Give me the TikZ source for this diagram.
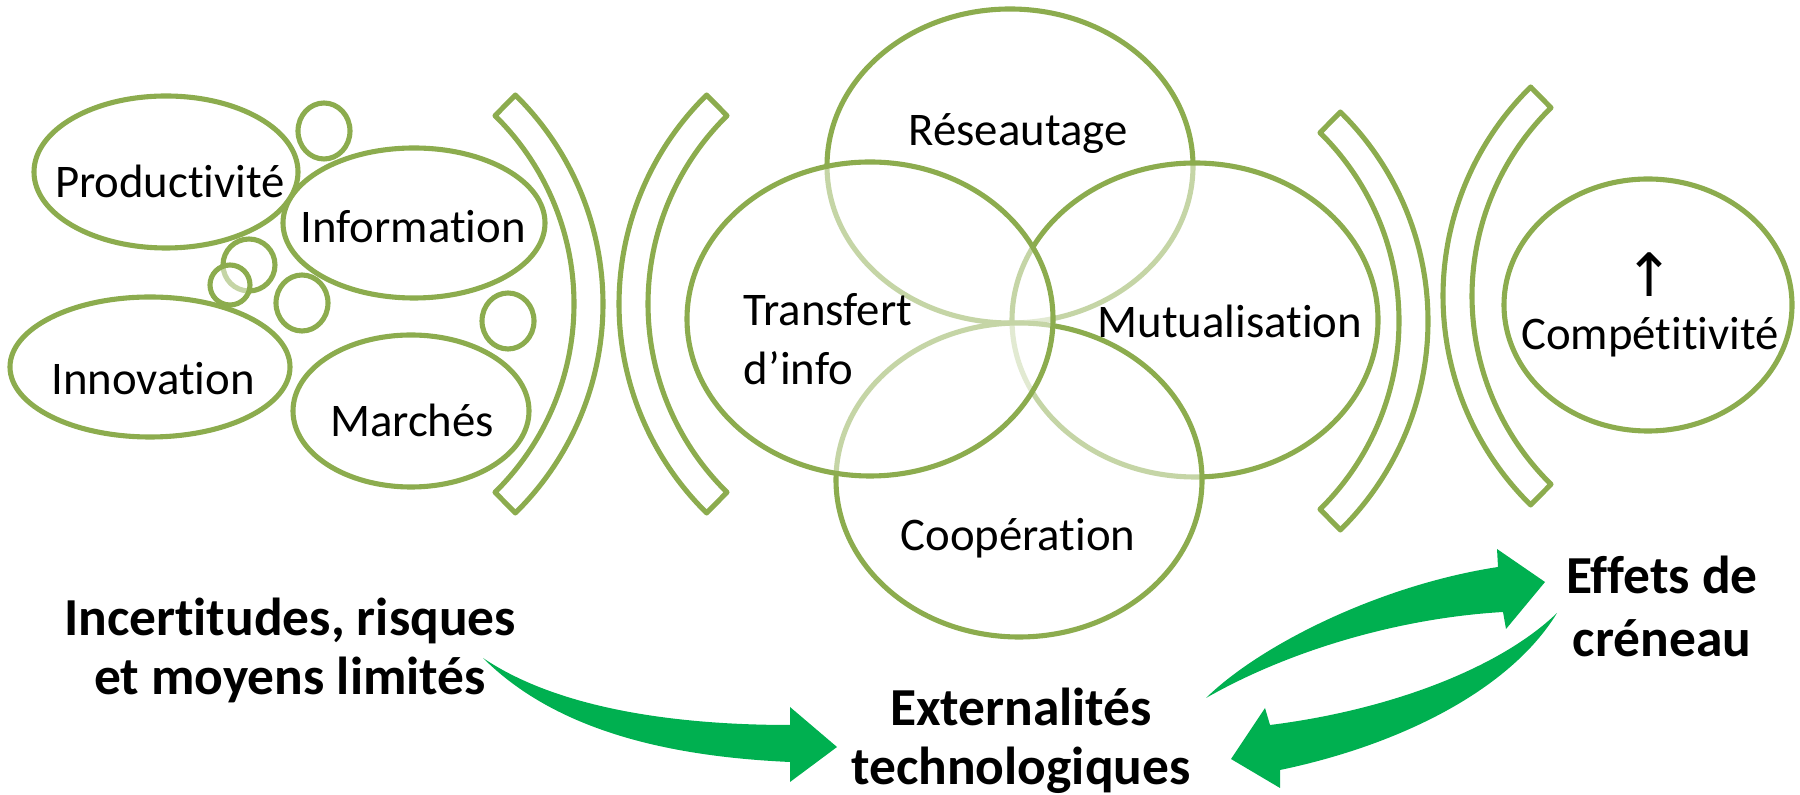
\documentclass[tikz,border=0pt]{standalone}
\usepackage{fontspec}
\setmainfont{Carlito}[Ligatures=NoCommon]
\newfontfamily\arrowfont{DejaVu Sans}
\usepackage{xcolor}
\definecolor{leaf}{RGB}{140,172,78}
\definecolor{flowgreen}{RGB}{0,176,80}

\begin{document}
\begin{tikzpicture}[x=0.01cm,y=-0.01cm,
		ring/.style={draw=leaf, line width=1.45pt},
		veil/.style={ring, fill=white, fill opacity=0.5},
		lbl/.style={font=\fontsize{13.3}{16}\selectfont, inner sep=0pt, anchor=base},
		big/.style={font=\fontsize{15.2}{17}\selectfont\bfseries, inner sep=0pt, anchor=base, align=center},
		flow/.style={fill=flowgreen}]
		% Parameters
		\def\bro{293}
		\def\bri{264}
		\def\bra{45.5}
		\def\vrx{183}
		\def\vry{157}
		
		\useasboundingbox (0,0) rectangle (1800,795);
		
		%left cluster
		\draw[ring] (166,172) ellipse [x radius=132, y radius=76];
		\draw[ring] (414,223) ellipse [x radius=131, y radius=75];
		\draw[ring] (150,367) ellipse [x radius=140, y radius=70];
		\draw[ring] (411,411) ellipse [x radius=118, y radius=76];
		\draw[ring] (249,265) circle [radius=26];
		\draw[veil] (230,285) circle [radius=20];
		\foreach \x/\y in {324/131, 302/303, 508/321} {
			\draw[ring] (\x,\y) ellipse [x radius=26, y radius=28];
		}
		
		%brackets
		\foreach \cx/\cy/\fl in {310/304/1, 912/304/-1, 1135/321/1, 1736/296/-1} {
			\begin{scope}[shift={(\cx,\cy)}, xscale=\fl]
				\draw[ring, line join=round] (-\bra:\bro) arc [start angle=-\bra, end angle=\bra, radius=\bro]
				-- (\bra:\bri) arc [start angle=\bra, end angle=-\bra, radius=\bri] -- cycle;
			\end{scope}
		}
		
		%venn
		\draw[veil] (1010,166) ellipse [x radius=\vrx, y radius=\vry];
		\draw[veil] (1195,320) ellipse [x radius=\vrx, y radius=\vry];
		\draw[veil] (1019,480) ellipse [x radius=\vrx, y radius=\vry];
		\draw[veil] (870,319) ellipse [x radius=\vrx, y radius=\vry];
		
		%result
		\draw[ring] (1648,305) ellipse [x radius=144, y radius=126];
		
		%labels
		\node[lbl] (prod) at (170,198) {Productivité};
		\node[lbl] (info) at (413,243) {Information};
		\node[lbl] (inno) at (153,395) {Innovation};
		\node[lbl] (marc) at (412,437) {Marchés};
		\node[lbl] (rese) at (1018,146) {Réseautage};
		\node[lbl, align=left, anchor=base west] (tran) at (743,385) {Transfert\\[1pt]d’info};
		\node[lbl] (mutu) at (1230,338) {Mutualisation};
		\node[lbl] (coop) at (1018,551) {Coopération};
		\node[lbl, font=\arrowfont\fontsize{17}{18}\selectfont] (up) at (1650,297) {↑};
		\node[lbl] (comp) at (1650,350) {Compétitivité};
		
		\node[big] (risk) at (290,695) {Incertitudes, risques\\et moyens limités};
		\node[big] (extn) at (1021,785) {Externalités\\technologiques};
		\node[big] (niche) at (1662,657) {Effets de\\[1pt]créneau};
		
		%arrows
		\fill[flow] (483,658) .. controls (560,710) and (680,725) .. (790,725)
		-- (790,707) -- (837,747) -- (790,782) -- (790,762)
		.. controls (680,757) and (560,735) .. (483,658) -- cycle;
		\fill[flow] (1206,698) .. controls (1260,645) and (1380,585) .. (1498,567)
		-- (1497,549) -- (1545,582) -- (1506,629) -- (1503,612)
		.. controls (1400,618) and (1290,650) .. (1206,698) -- cycle;
		\fill[flow] (1557,613) .. controls (1500,668) and (1390,710) .. (1270,725)
		-- (1265,708) -- (1231,759) -- (1280,788) -- (1280,770)
		.. controls (1400,745) and (1510,690) .. (1557,613) -- cycle;
\end{tikzpicture}
\end{document}
